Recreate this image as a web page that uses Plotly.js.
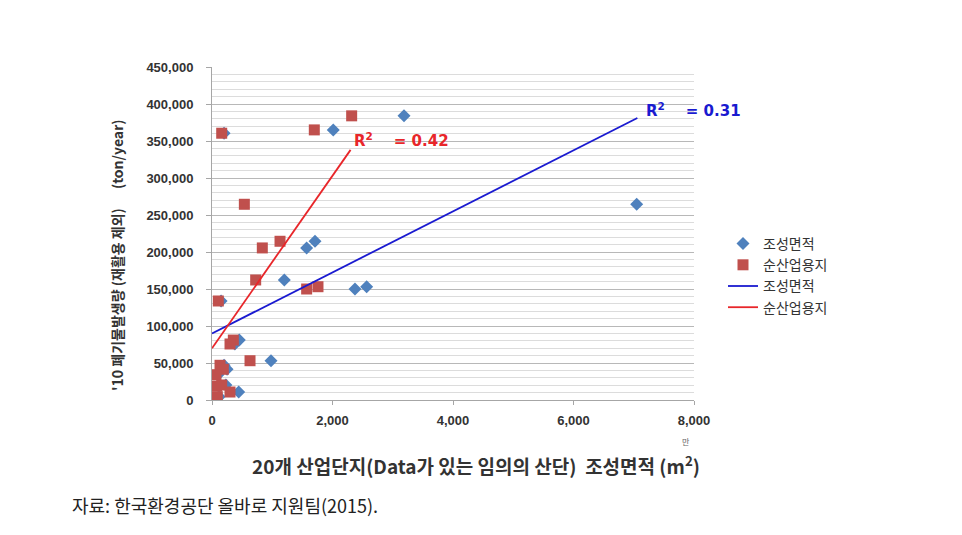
<!DOCTYPE html>
<html>
<head>
<meta charset="utf-8">
<script src="https://cdn.plot.ly/plotly-3.0.1.min.js"></script>
<style>
html,body{margin:0;padding:0;background:#fff;}
#chart{width:962px;height:535px;}
</style>
</head>
<body>
<div id="chart"></div>
<script>
// 조성면적 (total area, 만 m²) vs waste generation
const areaX = [3187, 2013, 200, 7049, 1710, 1571, 1200, 2373, 2567, 150, 453, 380, 979, 200, 250, 100, 110, 230, 443, 120];
const areaY = [384000, 365000, 360500, 264500, 214500, 205500, 162200, 150000, 153100, 133800, 81000, 75700, 53100, 46900, 41500, 34200, 18900, 20300, 10800, 4500];
// 순산업용지 (net industrial land)
const landX = [2318, 1698, 161, 537, 1129, 835, 725, 1571, 1759, 105, 354, 299, 631, 133, 188, 66, 78, 161, 299, 88];
const landY = [384000, 365000, 360500, 264500, 214500, 205500, 162200, 150000, 153100, 133800, 81000, 75700, 53100, 46900, 41500, 34200, 18900, 20300, 10800, 4500];
// trend lines (endpoints)
const areaTrendX = [0, 7060];
const areaTrendY = [90000, 381000];
const landTrendX = [0, 2300];
const landTrendY = [70000, 338000];
const xTicks = [0, 2000, 4000, 6000, 8000];
const seriesNames = ['조성면적', '순산업용지'];
const r2Labels = ['R<sup>2</sup>    = 0.31', 'R<sup>2</sup>    = 0.42'];

const traces = [
  {x: areaX, y: areaY, type: 'scatter', mode: 'markers', name: seriesNames[0],
   marker: {symbol: 'diamond', size: 10, color: '#4F81BD'}},
  {x: landX, y: landY, type: 'scatter', mode: 'markers', name: seriesNames[1],
   marker: {symbol: 'square', size: 11, color: '#C0504D'}},
  {x: areaTrendX, y: areaTrendY, type: 'scatter', mode: 'lines', name: seriesNames[0],
   line: {color: '#1a1ad0', width: 1.8}},
  {x: landTrendX, y: landTrendY, type: 'scatter', mode: 'lines', name: seriesNames[1],
   line: {color: '#e8262a', width: 1.8}}
];

const tickFont = {family: 'Arial, Liberation Sans, sans-serif', size: 13, color: '#333333', weight: 'bold'};
const kFont = 'Noto Sans CJK KR, sans-serif';
const r2Font = 'DejaVu Sans, sans-serif';

// helpers to place paper annotations by pixel
const L = 212, R = 694, T = 67, B = 400;
const px = v => (v - L) / (R - L);
const py = v => (B - v) / (B - T);

const layout = {
  width: 962, height: 535,
  margin: {l: L, r: 962 - R, t: T, b: 535 - B},
  paper_bgcolor: '#ffffff', plot_bgcolor: '#ffffff',
  showlegend: true,
  legend: {x: px(723), y: py(228), xanchor: 'left', yanchor: 'top',
    font: {family: kFont, size: 14, color: '#333'},
    itemwidth: 30, tracegroupgap: 0, bgcolor: 'rgba(0,0,0,0)'},
  xaxis: {
    range: [0, 8000], tickvals: xTicks, tickformat: ',d',
    showgrid: false, zeroline: false, showline: true, linecolor: '#a6a6a6', linewidth: 1,
    ticks: 'outside', ticklen: 4, tickcolor: '#a6a6a6', ticklabelstandoff: 4,
    tickfont: tickFont, fixedrange: true
  },
  yaxis: {
    range: [0, 450000], dtick: 50000, tickformat: ',d',
    showgrid: true, gridcolor: '#b8b8b8', gridwidth: 1,
    minor: {dtick: 10000, showgrid: true, gridcolor: '#dcdcdc', gridwidth: 1},
    zeroline: false, showline: true, linecolor: '#a6a6a6', linewidth: 1,
    ticks: 'outside', ticklen: 5, tickcolor: '#a6a6a6',
    tickfont: tickFont, ticklabelstandoff: 10, fixedrange: true
  },
  annotations: [
    {x: 7170, y: 392000, xref: 'x', yref: 'y', xanchor: 'left', yanchor: 'middle', showarrow: false,
     text: r2Labels[0], font: {family: r2Font, size: 15, color: '#1a1ad0', weight: 'bold'}},
    {x: 2325, y: 351000, xref: 'x', yref: 'y', xanchor: 'left', yanchor: 'middle', showarrow: false,
     text: r2Labels[1], font: {family: r2Font, size: 15, color: '#e8262a', weight: 'bold'}},
    {x: px(686), y: py(441), xref: 'paper', yref: 'paper', yanchor: 'middle', xanchor: 'center', showarrow: false,
     text: '만', font: {family: kFont, size: 8, color: '#666'}},
    {x: px(476), y: py(465), xref: 'paper', yref: 'paper', yanchor: 'middle', xanchor: 'center', showarrow: false,
     text: '20개 산업단지(Data가 있는 임의의 산단)  조성면적 (m<sup>2</sup>)',
     font: {family: kFont, size: 19, color: '#333', weight: 'bold'}},
    {x: px(117), y: py(255), xref: 'paper', yref: 'paper', yanchor: 'middle', xanchor: 'center', showarrow: false,
     textangle: -90,
     text: "'10 폐기물발생량 (재활용 제외)      (ton/year)",
     font: {family: kFont, size: 14, color: '#333', weight: 'bold'}},
    {x: px(70), y: py(505), xref: 'paper', yref: 'paper', xanchor: 'left', yanchor: 'middle', showarrow: false,
     text: '자료: 한국환경공단 올바로 지원팀(2015).', font: {family: kFont, size: 18, color: '#222'}}
  ]
};

Plotly.newPlot('chart', traces, layout, {displayModeBar: false, staticPlot: true});
</script>
</body>
</html>
